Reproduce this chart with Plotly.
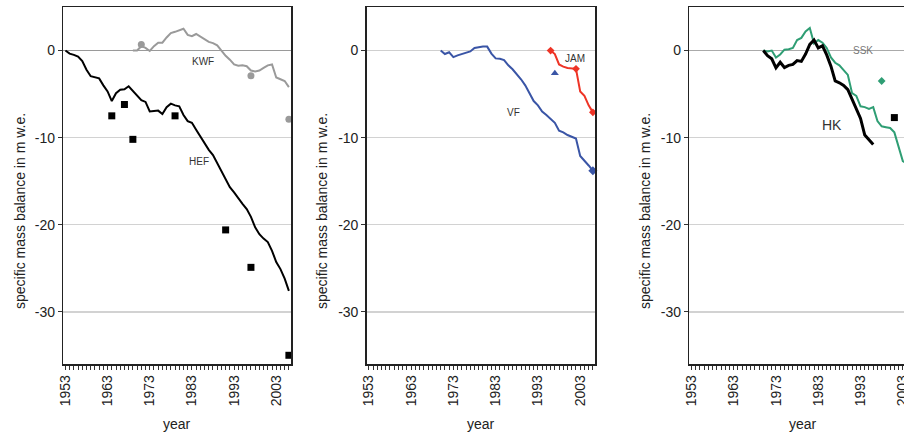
import plotly.graph_objects as go

# ---------------- data ----------------
hef_years = list(range(1953, 2007))
hef_vals = [0, -0.35, -0.5, -0.7, -1.2, -2.2, -2.95, -3.05, -3.2, -4.0,
            -4.7, -5.8, -4.9, -4.5, -4.45, -4.1, -4.6, -5.2, -5.7, -5.9,
            -7.0, -6.95, -6.9, -7.3, -6.5, -6.1, -6.3, -6.4, -7.4, -8.1,
            -8.3, -9.1, -9.9, -10.7, -11.4, -12.0, -12.9, -13.8, -14.8, -15.7,
            -16.3, -17.0, -17.6, -18.2, -19.1, -20.3, -21.1, -21.6, -22.0, -23.0,
            -24.3, -25.1, -26.2, -27.6]
hef_geo_years = [1964, 1967, 1969, 1979, 1991, 1997, 2006]
hef_geo_vals = [-7.5, -6.2, -10.2, -7.5, -20.6, -24.9, -35.0]

kwf_years = list(range(1969, 2007))
kwf_vals = [0, 0.0, 0.5, 0.3, -0.05, 0.5, 0.9, 0.9, 1.5, 2.0,
            2.15, 2.3, 2.5, 1.8, 1.65, 1.9, 1.6, 1.25, 1.0, 0.85,
            0.6, 0.0, -0.6, -1.05, -1.6, -1.75, -1.7, -1.8, -2.3, -2.4,
            -2.3, -2.0, -1.7, -1.6, -3.1, -3.3, -3.5, -4.2]
kwf_geo_years = [1971, 1997, 2006]
kwf_geo_vals = [0.7, -2.9, -7.9]

vf_years = list(range(1970, 2007))
vf_vals = [0, -0.4, -0.2, -0.75, -0.55, -0.4, -0.25, -0.1, 0.3, 0.38,
           0.45, 0.45, -0.35, -0.9, -0.95, -1.1, -1.7, -2.15, -2.7, -3.3,
           -4.0, -4.9, -5.8, -6.3, -7.0, -7.4, -7.9, -8.3, -9.2, -9.4,
           -9.7, -9.9, -10.1, -12.1, -12.6, -13.2, -13.8]
vf_geo_years = [1997]
vf_geo_vals = [-2.6]
vf_mark_years = [2006]
vf_mark_vals = [-13.8]

jam_years = list(range(1996, 2007))
jam_vals = [0, -0.4, -1.6, -1.85, -2.0, -2.05, -2.1, -4.7, -5.2, -6.3, -7.1]
jam_mark_years = [1996, 2002, 2006]
jam_mark_vals = [0, -2.1, -7.1]

ssk_years = list(range(1970, 2007))
ssk_vals = [0, -0.1, 0, -0.8, -0.45, 0.1, 0.15, 0.3, 1.2, 1.45,
            2.2, 2.6, 0.8, 1.2, 0.9, 0.3, -0.8, -1.4, -1.7, -2.2,
            -2.8, -4.9, -5.2, -6.4, -6.5, -6.7, -6.5, -8.1, -8.7, -8.8,
            -8.9, -9.4, -11.0, -12.7, -13.0, -13.6, -14.3]
ssk_geo_years = [1998]
ssk_geo_vals = [-3.5]

hk_years = list(range(1970, 1997))
hk_vals = [0, -0.6, -0.95, -2.0, -1.35, -1.95, -1.7, -1.6, -1.15, -1.25,
           -0.4, 0.7, 1.2, 0.3, 0.55, -0.5, -1.8, -3.5, -3.7, -4.0,
           -4.5, -5.6, -6.6, -7.8, -9.7, -10.3, -10.8]
hk_geo_years = [2001]
hk_geo_vals = [-7.7]

tick_years = [1953, 1963, 1973, 1983, 1993, 2003]
y_ticks = [0, -10, -20, -30]

# ---------------- styling ----------------
FONT = "Liberation Sans, Arial, sans-serif"
fig = go.Figure()

def line(x, y, color, width, xa, ya):
    fig.add_trace(go.Scatter(x=x, y=y, mode="lines", line=dict(color=color, width=width),
                             xaxis=xa, yaxis=ya, showlegend=False, hoverinfo="skip"))

def marks(x, y, color, symbol, size, xa, ya):
    fig.add_trace(go.Scatter(x=x, y=y, mode="markers",
                             marker=dict(color=color, symbol=symbol, size=size, line=dict(width=0)),
                             xaxis=xa, yaxis=ya, showlegend=False, hoverinfo="skip",
                             cliponaxis=False))

GRAY = "#9a9a9a"
BLUE = "#3a55a6"
RED = "#ee3426"
GREEN = "#2f9e74"

# panel 1
line(kwf_years, kwf_vals, GRAY, 2, "x", "y")
line(hef_years, hef_vals, "black", 2, "x", "y")
marks(hef_geo_years, hef_geo_vals, "black", "square", 7, "x", "y")
marks(kwf_geo_years, kwf_geo_vals, GRAY, "circle", 7, "x", "y")

# panel 2
line(vf_years, vf_vals, BLUE, 2, "x2", "y2")
line(jam_years, jam_vals, RED, 2, "x2", "y2")
marks(jam_mark_years, jam_mark_vals, RED, "diamond", 6, "x2", "y2")
marks(vf_mark_years, vf_mark_vals, BLUE, "diamond", 7, "x2", "y2")
marks(vf_geo_years, vf_geo_vals, BLUE, "triangle-up", 7, "x2", "y2")

# panel 3
line(ssk_years, ssk_vals, GREEN, 2, "x3", "y3")
line(hk_years, hk_vals, "black", 3, "x3", "y3")
marks(ssk_geo_years, ssk_geo_vals, GREEN, "diamond", 6, "x3", "y3")
marks(hk_geo_years, hk_geo_vals, "black", "square", 7, "x3", "y3")

W = 904.0
domains = [[63.3 / W, 291.0 / W], [366.7 / W, 595.0 / W], [689.3 / W, 1.0]]
xranges = [[1952.5, 2006.5], [1952.5, 2006.5], [1952.5, 1952.5 + (904 - 689.3) / 4.228]]
zerocolors = ["#9a9a9a", "#cfcfcf", "#aaaaaa"]

layout = dict(
    width=904, height=434,
    margin=dict(l=0, r=0, t=7, b=70, autoexpand=False),
    paper_bgcolor="white", plot_bgcolor="white",
    font=dict(family=FONT, size=13, color="#222"),
    showlegend=False,
)
for i in range(3):
    sx = "" if i == 0 else str(i + 1)
    layout["xaxis" + sx] = dict(
        domain=domains[i], range=xranges[i], anchor="y" + sx, automargin=False,
        tickmode="array", tickvals=tick_years, ticktext=[str(t) for t in tick_years],
        tickangle=-90, ticks="outside", ticklen=4, tickcolor="#333", tickwidth=1,
        ticklabeloverflow="allow",
        minor=dict(dtick=1, tick0=1953, ticks="outside", ticklen=4, tickcolor="#333",
                   tickwidth=1, showgrid=False),
        showline=True, linecolor="#222", linewidth=1.5, mirror=True,
        showgrid=False, zeroline=False, fixedrange=True,
        tickfont=dict(size=14, color="#222"),
    )
    layout["yaxis" + sx] = dict(
        domain=[0, 1], range=[-36, 5], anchor="x" + sx, automargin=False,
        tickmode="array", tickvals=y_ticks, ticktext=[str(t) for t in y_ticks],
        ticks="outside", ticklen=4, tickcolor="#333",
        showline=True, linecolor="#222", linewidth=1.5, mirror=(i < 2),
        showgrid=True, gridcolor="#d2d2d2", gridwidth=1.5,
        zeroline=True, zerolinecolor=zerocolors[i], zerolinewidth=1.5,
        tickfont=dict(size=14, color="#222"), fixedrange=True,
    )

annotations = []
ytitle_x = [20, 322, 645]
year_x = [177, 481, 803]
for i in range(3):
    annotations.append(dict(text="specific mass balance in m w.e.", xref="paper", yref="paper",
                            x=ytitle_x[i] / W, y=(364 - 211) / 357.0, textangle=-90,
                            showarrow=False, font=dict(size=14, color="#222"),
                            xanchor="center", yanchor="middle"))
    annotations.append(dict(text="year", xref="paper", yref="paper",
                            x=year_x[i] / W, y=(364 - 424) / 357.0,
                            showarrow=False, font=dict(size=14, color="#222"),
                            xanchor="center", yanchor="middle"))

labels = [
    ("KWF", "x", "y", 1985.6, -1.3, 10, "#333"),
    ("HEF", "x", "y", 1984.6, -12.8, 10, "#333"),
    ("VF", "x2", "y2", 1987.3, -7.1, 10, "#333"),
    ("JAM", "x2", "y2", 2001.8, -0.9, 10, "#333"),
    ("SSK", "x3", "y3", 1993.5, 0.0, 10, "#777"),
    ("HK", "x3", "y3", 1986.2, -8.6, 14, "#333"),
]
for t, xa, ya, xv, yv, sz, col in labels:
    annotations.append(dict(text=t, xref=xa, yref=ya, x=xv, y=yv, showarrow=False,
                            font=dict(size=sz, color=col), xanchor="center", yanchor="middle"))

layout["annotations"] = annotations
fig.update_layout(**layout)
fig.write_html(
    "out.html",
    config={"displayModeBar": False, "staticPlot": True},
    post_script="document.body.style.margin='0';document.documentElement.style.overflow='hidden';document.body.style.overflow='hidden';",
)
